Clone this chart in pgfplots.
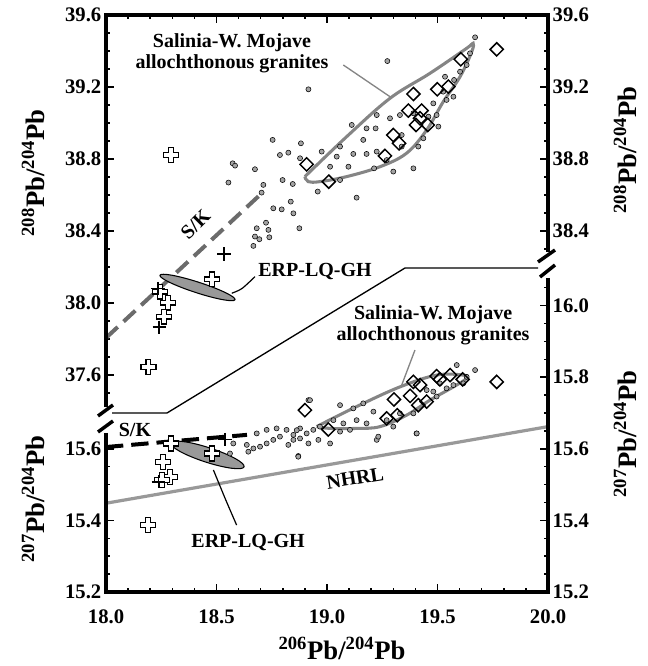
\documentclass[border=0pt]{standalone}
\usepackage{fontspec}
\setmainfont{Liberation Serif}
\usepackage{pgfplots}
\pgfplotsset{compat=1.18}

\definecolor{dotgray}{gray}{0.64}
\definecolor{contgray}{gray}{0.52}
\definecolor{nhrlgray}{gray}{0.6}
\definecolor{skgray}{gray}{0.42}
\definecolor{erpgray}{gray}{0.6}

\pgfdeclareplotmark{ocross}{%
  \pgfpathmoveto{\pgfqpoint{-0.33\pgfplotmarksize}{\pgfplotmarksize}}%
  \pgfpathlineto{\pgfqpoint{0.33\pgfplotmarksize}{\pgfplotmarksize}}%
  \pgfpathlineto{\pgfqpoint{0.33\pgfplotmarksize}{0.33\pgfplotmarksize}}%
  \pgfpathlineto{\pgfqpoint{\pgfplotmarksize}{0.33\pgfplotmarksize}}%
  \pgfpathlineto{\pgfqpoint{\pgfplotmarksize}{-0.33\pgfplotmarksize}}%
  \pgfpathlineto{\pgfqpoint{0.33\pgfplotmarksize}{-0.33\pgfplotmarksize}}%
  \pgfpathlineto{\pgfqpoint{0.33\pgfplotmarksize}{-\pgfplotmarksize}}%
  \pgfpathlineto{\pgfqpoint{-0.33\pgfplotmarksize}{-\pgfplotmarksize}}%
  \pgfpathlineto{\pgfqpoint{-0.33\pgfplotmarksize}{-0.33\pgfplotmarksize}}%
  \pgfpathlineto{\pgfqpoint{-\pgfplotmarksize}{-0.33\pgfplotmarksize}}%
  \pgfpathlineto{\pgfqpoint{-\pgfplotmarksize}{0.33\pgfplotmarksize}}%
  \pgfpathlineto{\pgfqpoint{-0.33\pgfplotmarksize}{0.33\pgfplotmarksize}}%
  \pgfpathclose
  \pgfusepathqfillstroke}

\pgfplotstableread{
x y
19.670 39.476
19.273 39.344
18.916 39.187
18.754 38.906
18.882 38.887
18.787 38.822
18.825 38.835
18.573 38.776
18.584 38.763
18.674 38.743
18.878 38.804
18.554 38.669
18.712 38.656
18.799 38.683
18.845 38.661
18.958 38.619
19.059 38.683
19.134 38.585
19.391 38.748
18.704 38.613
18.757 38.526
18.795 38.520
18.836 38.563
18.848 38.498
18.724 38.446
18.682 38.415
18.735 38.406
18.875 38.415
18.674 38.369
18.739 38.365
18.694 38.354
18.667 38.317
19.220 38.970
19.225 39.044
19.179 38.970
19.112 38.989
19.164 38.906
19.059 38.869
18.976 38.841
19.119 38.828
19.179 38.828
19.225 38.841
19.300 38.730
19.213 38.748
19.338 38.869
19.436 38.915
19.413 38.869
19.504 38.980
19.541 39.128
19.572 39.146
19.481 39.109
19.526 39.174
19.602 39.285
19.632 39.322
19.575 39.239
19.647 39.387
19.534 39.257
19.285 39.026
19.330 39.044
19.391 39.054
19.044 38.813
19.014 38.757
19.097 38.757
19.270 38.794
19.338 38.933
19.459 39.035
19.496 39.044
}\dotsup

\pgfplotstableread{
x y
18.916 15.736
19.670 15.820
19.587 15.834
19.481 15.760
19.541 15.769
19.572 15.778
19.617 15.783
19.496 15.746
19.405 15.643
19.225 15.625
19.232 15.634
19.119 15.713
19.164 15.727
19.210 15.704
19.134 15.680
19.179 15.671
19.074 15.671
19.029 15.680
18.968 15.662
18.938 15.653
18.908 15.643
18.878 15.657
18.848 15.639
18.817 15.653
18.787 15.634
18.757 15.625
18.727 15.615
18.697 15.606
18.667 15.601
18.682 15.643
18.727 15.653
18.772 15.657
18.825 15.611
18.637 15.611
18.644 15.592
18.561 15.587
18.576 15.615
18.870 15.580
18.961 15.625
19.059 15.648
19.270 15.680
19.300 15.662
19.330 15.699
19.391 15.699
19.451 15.764
19.511 15.783
19.632 15.801
18.916 15.615
19.014 15.615
19.104 15.653
18.863 15.652
18.848 15.625
18.878 15.629
18.923 15.736
19.059 15.722
19.406 15.643
18.870 15.578
}\dotslow

\pgfplotstableread{
x y
19.768 39.409
19.605 39.354
19.549 39.202
19.499 39.187
19.391 39.161
19.368 39.069
19.428 39.069
19.421 39.026
19.403 38.989
19.456 38.989
19.300 38.933
19.326 38.887
19.262 38.817
18.908 38.770
19.008 38.674
}\diaup

\pgfplotstableread{
x y
19.768 15.787
19.614 15.794
19.557 15.806
19.496 15.803
19.511 15.794
19.391 15.787
19.421 15.778
19.376 15.748
19.303 15.738
19.451 15.732
19.413 15.722
19.318 15.694
19.270 15.685
18.900 15.708
19.006 15.654
}\dialow

\pgfplotsset{
  base/.style={
    scale only axis, width=331.5pt, height=432.75pt,
    xmin=18, xmax=20, at={(0pt,0pt)}, anchor=south west,
    axis line style={draw=none},
    tick align=inside, major tick length=6pt, minor tick length=3pt,
    tick style={black, line width=1.1pt},
    tick label style={font=\fontsize{15.5}{16}\selectfont\bfseries,
      /pgf/number format/fixed, /pgf/number format/fixed zerofill,
      /pgf/number format/precision=1, /pgf/number format/assume math mode=true},
    xtick={18,18.5,19,19.5,20},
    minor xtick={18.1,18.2,18.3,18.4,18.6,18.7,18.8,18.9,19.1,19.2,19.3,19.4,19.6,19.7,19.8,19.9},
    scaled ticks=false,
  },
  up/.style={base, ymin=36.394, ymax=39.6},
  low/.style={base, ymin=15.2, ymax=16.812},
}

\begin{document}
\begin{tikzpicture}
\useasboundingbox (-79.5pt,-55.5pt) rectangle (406.5pt,444pt);

% ---------- upper panel: 208Pb/204Pb ----------
\begin{axis}[up, axis y line*=left, axis x line*=top, xticklabels={},
  ytick={37.6,38.0,38.4,38.8,39.2,39.6},
  minor ytick={37.5,37.7,37.8,37.9,38.1,38.2,38.3,38.5,38.6,38.7,38.9,39.0,39.1,39.3,39.4,39.5}]
\addplot[only marks, mark=*, mark size=1.9pt, mark options={draw=none, fill=dotgray}] table {\dotsup};
\addplot[skgray, line width=3pt, dash pattern=on 12pt off 6pt] coordinates {(18.0,37.806) (18.706,38.611)};
\addplot[contgray, line width=2.3pt, smooth, tension=0.6] coordinates {
 (18.900,38.702) (19.089,38.924) (19.285,39.137) (19.466,39.276) (19.632,39.415)
 (19.661,39.443) (19.655,39.396) (19.602,39.257) (19.526,39.118) (19.451,38.961)
 (19.360,38.832) (19.240,38.757) (19.089,38.702) (18.968,38.674) (18.915,38.674)
 (18.900,38.702)};
\addplot[contgray, line width=1pt] coordinates {(19.074,39.322) (19.285,39.146)};
\draw[black, line width=0.8pt, fill=erpgray, rotate around={-18:(axis cs:18.414,38.086)}]
  (axis cs:18.414,38.086) ellipse (29.6pt and 4pt);
\addplot[black, line width=0.9pt, smooth] coordinates {(18.674,38.146) (18.615,38.080) (18.569,38.054)};
\addplot[only marks, mark=square, mark size=3.5pt, mark options={rotate=45, fill=white, draw=black, line width=1.1pt}] table {\diaup};
\addplot[only marks, mark=ocross, mark size=5.6pt, mark options={fill=white, draw=black, line width=0.9pt}] coordinates {
 (18.294,38.822) (18.478,38.131) (18.244,38.063) (18.282,38.002) (18.262,37.924) (18.191,37.646)};
\addplot[only marks, mark=+, mark size=5pt, mark options={black, line width=1.2pt}] coordinates {
 (18.534,38.272) (18.241,37.865) (18.235,38.080)};
\node[font=\fontsize{15}{16}\selectfont\bfseries, align=center] at (axis cs:18.570,39.389) {Salinia-W. Mojave\\allochthonous granites};
\node[font=\fontsize{15}{16}\selectfont\bfseries] at (axis cs:18.946,38.172) {ERP-LQ-GH};
\node[font=\fontsize{15}{16}\selectfont\bfseries, rotate=45, inner sep=0pt] at (axis cs:18.405,38.435) {S/K};
\end{axis}

\begin{axis}[up, axis y line*=right, axis x line=none,
  ytick={38.4,38.8,39.2,39.6},
  minor ytick={38.3,38.5,38.6,38.7,38.9,39.0,39.1,39.3,39.4,39.5}]
\end{axis}

% ---------- lower panel: 207Pb/204Pb ----------
\begin{axis}[low, axis y line*=left, axis x line*=bottom,
  ytick={15.2,15.4,15.6},
  minor ytick={15.25,15.3,15.35,15.45,15.5,15.55},
  xticklabel style={anchor=base, yshift=-23.25pt}]
\addplot[nhrlgray, line width=2.4pt] coordinates {(18.0,15.448) (20.0,15.662)};
\addplot[only marks, mark=*, mark size=1.9pt, mark options={draw=none, fill=dotgray}] table {\dotslow};
\addplot[black, line width=3pt, dash pattern=on 13pt off 6pt] coordinates {(18.0,15.605) (18.638,15.639)};
\addplot[contgray, line width=2.3pt, smooth, tension=0.6] coordinates {
 (18.953,15.662) (19.134,15.718) (19.330,15.773) (19.496,15.806) (19.616,15.806)
 (19.632,15.797) (19.572,15.773) (19.466,15.736) (19.360,15.694) (19.240,15.662)
 (19.134,15.657) (19.014,15.657) (18.953,15.662)};
\addplot[contgray, line width=1pt] coordinates {(19.398,15.876) (19.338,15.778)};
\draw[black, line width=0.8pt, fill=erpgray, rotate around={-18:(axis cs:18.459,15.583)}]
  (axis cs:18.459,15.583) ellipse (28.9pt and 5.5pt);
\addplot[black, line width=0.9pt, smooth] coordinates {(18.591,15.387) (18.540,15.460) (18.486,15.541)};
\addplot[only marks, mark=square, mark size=3.5pt, mark options={rotate=45, fill=white, draw=black, line width=1.1pt}] table {\dialow};
\addplot[only marks, mark=ocross, mark size=5.6pt, mark options={fill=white, draw=black, line width=0.9pt}] coordinates {
 (18.192,15.829) (18.293,15.615) (18.478,15.587) (18.259,15.564) (18.290,15.522) (18.252,15.513) (18.189,15.387)};
\addplot[only marks, mark=+, mark size=5pt, mark options={black, line width=1.2pt}] coordinates {
 (18.538,15.626) (18.237,15.508)};
\node[font=\fontsize{15}{16}\selectfont\bfseries, align=center] at (axis cs:19.480,15.946) {Salinia-W. Mojave\\allochthonous granites};
\node[font=\fontsize{15}{16}\selectfont\bfseries] at (axis cs:18.643,15.337) {ERP-LQ-GH};
\node[font=\fontsize{15}{16}\selectfont\bfseries, rotate=9] at (axis cs:19.127,15.518) {NHRL};
\node[font=\fontsize{15}{16}\selectfont\bfseries] at (axis cs:18.131,15.653) {S/K};
\end{axis}

\begin{axis}[low, axis y line*=right, axis x line=none,
  ytick={15.2,15.4,15.6,15.8,16.0},
  minor ytick={15.25,15.3,15.35,15.45,15.5,15.55,15.65,15.7,15.75,15.85,15.9,15.95,16.05}]
\end{axis}

% ---------- frame with axis breaks ----------
\begin{scope}[line width=2.6pt, black]
\draw[line cap=rect] (0pt,432.75pt) -- (331.5pt,432.75pt);
\draw[line cap=rect] (0pt,0pt) -- (331.5pt,0pt);
\draw (0pt,432.75pt) -- (0pt,138.75pt);
\draw (0pt,119.25pt) -- (0pt,0pt);
\draw (331.5pt,432.75pt) -- (331.5pt,255pt);
\draw (331.5pt,235.5pt) -- (331.5pt,0pt);
\draw (-6pt,132pt) -- (5.25pt,140.25pt);
\draw (-6pt,120pt) -- (5.25pt,128.25pt);
\draw (324pt,247.5pt) -- (336.75pt,256.5pt);
\draw (325.5pt,236.25pt) -- (336.75pt,245.25pt);
\end{scope}
\draw[line width=1pt] (4.5pt,134.25pt) -- (45.75pt,134.25pt) -- (224.25pt,243pt) -- (324pt,243pt);

% ---------- axis titles ----------
\begin{scope}[font=\fontsize{20}{20}\selectfont\bfseries]
\node[rotate=90] at (-54.75pt,314.25pt) {\textsuperscript{208}Pb/\textsuperscript{204}Pb};
\node[rotate=90] at (-54.75pt,69.75pt) {\textsuperscript{207}Pb/\textsuperscript{204}Pb};
\node[rotate=90] at (389.25pt,331.5pt) {\textsuperscript{208}Pb/\textsuperscript{204}Pb};
\node[rotate=90] at (389.25pt,118.5pt) {\textsuperscript{207}Pb/\textsuperscript{204}Pb};
\node[anchor=base, inner sep=0pt] at (177pt,-50.5pt) {\textsuperscript{206}Pb/\textsuperscript{204}Pb};
\end{scope}
\end{tikzpicture}
\end{document}
